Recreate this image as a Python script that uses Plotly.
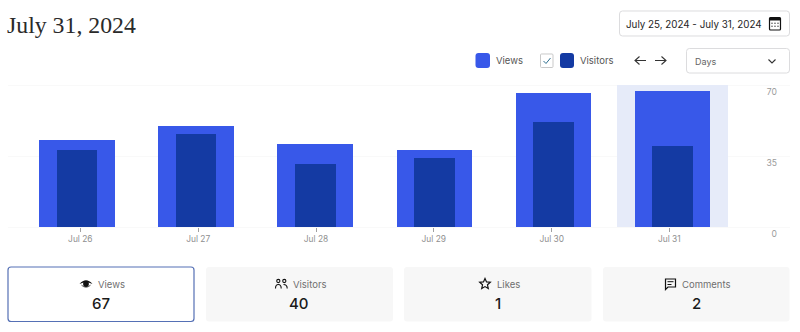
import re
import math
import plotly.graph_objects as go

W, H = 800, 332

# ---- data ----
categories = ["Jul 26", "Jul 27", "Jul 28", "Jul 29", "Jul 30", "Jul 31"]
bar_index = [0, 1, 2, 3, 4, 5]
views = [43, 50, 41, 38, 66, 67]
visitors = [38, 46, 31, 34, 52, 40]
highlight = [None, None, None, None, None, 70]
tick_positions = [0.028, 1.018, 2.007, 2.995, 3.986, 4.973]
y_ticks = [0, 35, 70]
card_labels = ["Views", "Visitors", "Likes", "Comments"]
card_values = ["67", "40", "1", "2"]

BLUE = "#3858e9"
NAVY = "#143aa3"
BAND = "#e6ebf9"
INK = "#1e1e1e"
GREY = "#6f6f6f"
AXIS = "#8f8f8f"
EDGE = "#dcdcde"
FONT = "Inter"


def px(x):
    return x / W


def py(y):
    return 1 - y / H


def path(d):
    toks = re.findall(r"[A-Za-z]|-?\d+\.?\d*", d)
    out, isx = [], True
    for t in toks:
        if t.isalpha():
            out.append(t)
            isx = True
        else:
            out.append(f"{px(float(t)):.5f}" if isx else f"{py(float(t)):.5f}")
            isx = not isx
    return " ".join(out)


shapes, notes = [], []


def shp_path(d, fill="rgba(0,0,0,0)", line=None, lw=1):
    shapes.append(dict(type="path", xref="paper", yref="paper", path=path(d), fillcolor=fill,
                       line=dict(color=line or "rgba(0,0,0,0)", width=lw if line else 0), layer="above"))


def rrect(x0, y0, x1, y1, r, fill="#ffffff", line=None, lw=1):
    d = (f"M {x0+r} {y0} L {x1-r} {y0} Q {x1} {y0} {x1} {y0+r} L {x1} {y1-r} Q {x1} {y1} {x1-r} {y1} "
         f"L {x0+r} {y1} Q {x0} {y1} {x0} {y1-r} L {x0} {y0+r} Q {x0} {y0} {x0+r} {y0} Z")
    shp_path(d, fill, line, lw)


def circle(cx, cy, r, fill="rgba(0,0,0,0)", line=None, lw=1):
    shapes.append(dict(type="circle", xref="paper", yref="paper", x0=px(cx-r), x1=px(cx+r), y0=py(cy+r), y1=py(cy-r),
                       fillcolor=fill, line=dict(color=line or "rgba(0,0,0,0)", width=lw if line else 0), layer="above"))


def text(x, y, s, size=11, color=INK, anchor="left", family=FONT, weight=400):
    notes.append(dict(xref="paper", yref="paper", x=px(x), y=py(y), text=s, showarrow=False, xanchor=anchor,
                      yanchor="middle", xshift=0, borderpad=0, borderwidth=0,
                      font=dict(size=size, color=color, family=family, weight=weight)))


# ---- header ----
text(6.5, 25.5, "July 31, 2024", 23.8, "#2a2a2a", family="Liberation Serif")
rrect(619.5, 11, 789.5, 36, 3, "#ffffff", EDGE)
text(626, 24, "July 25, 2024 - July 31, 2024", 9.8, INK)
rrect(769.5, 17.5, 780.5, 30, 1, "#ffffff", "#111111", 1.2)
rrect(769.5, 17.5, 780.5, 20.5, 0.5, "#111111")
for yy in (23.3, 26.3):
    for xx in (772, 775, 778):
        circle(xx, yy, 0.7, "#333333")

# ---- legend ----
rrect(475.5, 53, 490, 68, 3, BLUE)
text(496, 60, "Views", 9.5, "#555555")
rrect(540.5, 54, 553, 67.5, 1, "#ffffff", "#c9c9c9")
shp_path("M 543.5 61 L 546 63.5 L 550.5 58", line="#2f6f8f", lw=1)
rrect(560, 53, 574, 68, 3, NAVY)
text(580, 60, "Visitors", 9.5, "#555555")
shp_path("M 646 60.5 L 635 60.5 M 639.5 56.5 L 635 60.5 L 639.5 64.5", line="#333333", lw=1.1)
shp_path("M 655 60.5 L 666 60.5 M 661.5 56.5 L 666 60.5 L 661.5 64.5", line="#333333", lw=1.1)
rrect(686.5, 48.5, 789.5, 73, 3, "#ffffff", EDGE)
text(695, 61, "Days", 9, "#666666")
shp_path("M 768.5 59.5 L 772 63 L 775.5 59.5", line="#333333", lw=1.1)

# ---- cards ----
rrect(8, 267, 194, 321.5, 3, "#ffffff", "#5570b5", 1.2)
rrect(206, 267, 393, 321.5, 3, "#f7f7f7")
rrect(404, 267, 591.5, 321.5, 3, "#f7f7f7")
rrect(603, 267, 789.5, 321.5, 3, "#f7f7f7")

label_x = [97.5, 292.5, 496.5, 682]
value_x = [100.7, 299, 497.7, 696]
for s, v, lx, vx in zip(card_labels, card_values, label_x, value_x):
    text(lx, 284, s, 9.5, GREY)
    text(vx, 303.5, v, 15, "#1a1a1a", anchor="center", weight=500)

# eye
shp_path("M 79.5 284 Q 86 276.5 92.5 284 Q 89 282.6 86 282.6 Q 83 282.6 79.5 284 Z", "#111111")
circle(86, 284, 2.9, "#111111")
shp_path("M 81.5 285.2 Q 86 289.2 90.5 285.2", line="#111111", lw=0.7)
# people
circle(278.3, 281, 1.6, line="#111111", lw=1.1)
circle(284.3, 281, 1.6, line="#111111", lw=1.1)
shp_path("M 275.5 288.5 Q 275.5 284.5 278.3 284.5 Q 281.2 284.5 281.2 288.5", line="#111111", lw=1.1)
shp_path("M 283.5 284.5 Q 287.2 284.5 287.2 288.5", line="#111111", lw=1.1)
# star
pts = []
for i in range(10):
    r = 5.6 if i % 2 == 0 else 2.6
    a = -math.pi / 2 + i * math.pi / 5
    pts.append((485 + r * math.cos(a), 284 + r * math.sin(a)))
shp_path("M " + " L ".join(f"{a:.2f} {b:.2f}" for a, b in pts) + " Z", line="#111111", lw=1.2)
# comment
shp_path("M 665.5 279 L 675.5 279 L 675.5 287 L 668 287 L 665.5 289.5 Z", line="#111111", lw=1.2)
shp_path("M 667.5 281.7 L 673.5 281.7 M 667.5 284.5 L 671.5 284.5", line="#111111", lw=1)

# ---- chart ----
fig = go.Figure()
fig.add_bar(x=bar_index, y=highlight, width=0.933, marker=dict(color=BAND, line_width=0),
            hoverinfo="skip", showlegend=False)
fig.add_bar(x=bar_index, y=views, name="Views", width=0.635,
            marker=dict(color=BLUE, line_width=0, cornerradius=1), showlegend=False)
fig.add_bar(x=bar_index, y=visitors, name="Visitors", width=0.342,
            marker=dict(color=NAVY, line_width=0, cornerradius=1), showlegend=False)

fig.update_layout(
    width=W, height=H, autosize=False,
    margin=dict(l=0, r=0, t=0, b=0),
    paper_bgcolor="#ffffff", plot_bgcolor="#ffffff",
    barmode="overlay", bargap=0,
    font=dict(family=FONT),
    shapes=shapes, annotations=notes,
    xaxis=dict(domain=[px(8), px(790)], range=[-0.579, 5.986], tickmode="array",
               tickvals=tick_positions, ticktext=categories, ticks="outside", ticklen=4, tickwidth=1,
               tickcolor="#a0a0a0", showgrid=False, zeroline=False, showline=False,
               tickfont=dict(size=8.4, color=AXIS, family=FONT), anchor="free", position=py(227.3), fixedrange=True),
    yaxis=dict(domain=[py(240), py(82)], range=[-6.247, 71.476], tickmode="array", tickvals=y_ticks,
               side="right", ticklabelposition="inside", ticklabelstandoff=10, ticklabelshift=7,
               showgrid=True, gridcolor="#f9f9f9", gridwidth=1, zeroline=False, showline=False,
               tickfont=dict(size=8.6, color="#9a9a9a", family=FONT), anchor="x", fixedrange=True),
)

fig.write_html("out.html", config=dict(displayModeBar=False),
               post_script="document.body.style.margin='0';document.documentElement.style.margin='0';document.body.style.overflow='hidden';")
